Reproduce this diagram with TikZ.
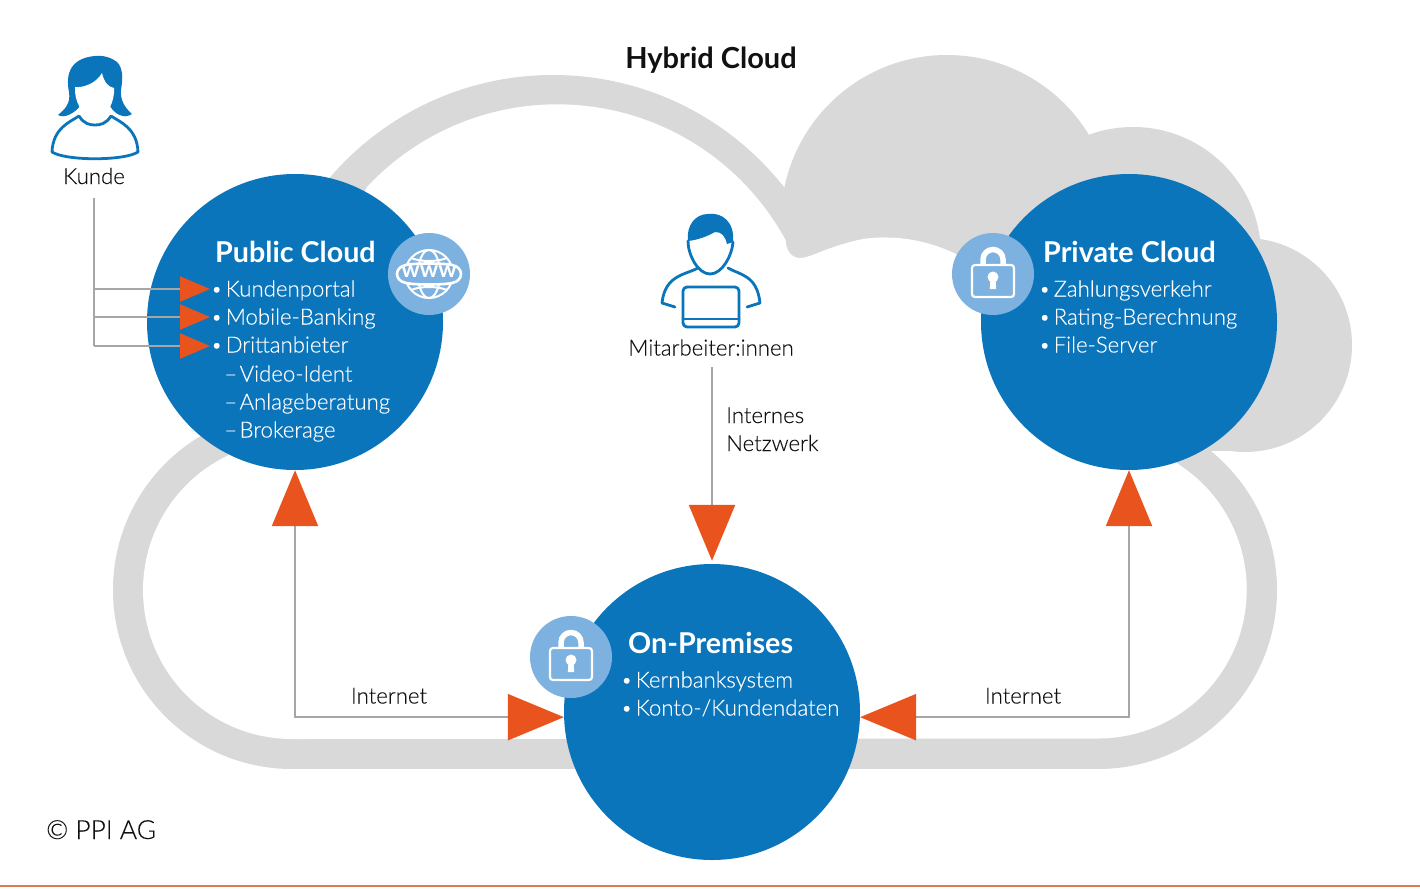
\documentclass[tikz,border=0pt]{standalone}
\usepackage{fontspec}
\setmainfont{Lato Light}[BoldFont=Lato Bold,UprightFeatures={FakeBold=0.15}]
\usetikzlibrary{arrows.meta}
\definecolor{ppiblue}{HTML}{0B75BC}
\definecolor{ppilight}{HTML}{7DB1E0}
\definecolor{ppigrey}{HTML}{D9D9D9}
\definecolor{ppiline}{HTML}{A6A6A6}
\definecolor{ppiorange}{HTML}{E9531D}
\definecolor{ppirule}{HTML}{DC7A50}
\definecolor{ppidark}{HTML}{111111}
\newcommand{\itm}{\raisebox{1pt}{\fontsize{19}{19}\selectfont •}\hspace{3.5pt}}
\newcommand{\dsh}{–\hspace{2.5pt}}
\tikzset{
  bigcircle/.style={circle,fill=ppiblue,inner sep=0pt,minimum size=296pt},
  badge/.style={circle,fill=ppilight,inner sep=0pt,minimum size=82pt},
  txt/.style={anchor=base west,inner sep=0pt,font=\fontsize{22.2}{28}\selectfont},
  itemtext/.style={txt,text=white},
  titletext/.style={anchor=base west,inner sep=0pt,text=white,font=\fontsize{28.7}{34}\selectfont\bfseries},
  labeltext/.style={txt,text=ppidark},
  conn/.style={draw=ppiline,line width=2.3pt,line join=miter},
  bigtip/.style={-{Triangle[length=56pt,width=46pt,color=ppiorange]}},
  bigtips/.style={{Triangle[length=56pt,width=46pt,color=ppiorange]}-{Triangle[length=56pt,width=46pt,color=ppiorange]}},
  smalltip/.style={-{Triangle[length=30pt,width=25pt,color=ppiorange]}},
  icon/.style={draw=ppiblue,line width=2.8pt,line join=round,line cap=round},
  lockicon/.pic={
    \draw[white,line width=5.5pt] (-10,-8) -- (-10,-14.5) arc[start angle=180,end angle=360,radius=10] -- (10,-8);
    \draw[white,line width=2.2pt,rounded corners=3pt,fill=ppilight] (-21,-9) rectangle (21,23);
    \fill[white] (0,3) circle[radius=5.5];
    \fill[white] (-2.5,4) -- (2.5,4) -- (3.2,15) -- (-3.2,15) -- cycle;
  }
}
\begin{document}
\begin{tikzpicture}[x=1pt,y=-1pt]
\useasboundingbox (0,0) rectangle (1420,888);
\fill[white] (0,0) rectangle (1420,888);
% cloud body
\foreach \cx/\cy/\rr in {553/369/294, 947/221/166, 1133/255/128, 1245/345/107, 292/590/179, 1098/590/179}
  \fill[ppigrey] (\cx,\cy) circle[radius=\rr];
\fill[ppigrey] (1150,345) rectangle (1245,451);
\fill[ppigrey] (292,400) rectangle (1098,769);
\fill[ppigrey] (800,250) rectangle (1200,400);
% cloud interior
\fill[white] (367,187) arc[start angle=223,end angle=331.5,radius=260]
  .. controls (786,250) and (791,258) .. (800,258)
  .. controls (811,258) and (828,246) .. (863,239)
  .. controls (890,235) and (925,238) .. (960,256)
  -- (1000,290) -- (1178,464)
  arc[start angle=302.6,end angle=450,radius=149]
  -- (292,739)
  arc[start angle=90,end angle=244.6,radius=149] -- cycle;
% big circles
\node[bigcircle] (public) at (295,322) {};
\node[bigcircle] (private) at (1129,322) {};
\node[bigcircle] (onprem) at (712,712) {};
% badges
\node[badge] (www) at (429,274) {};
\node[badge] (lockb) at (993,274) {};
\node[badge] (locka) at (571,657) {};
\pic at (993,274) {lockicon};
\pic at (571,657) {lockicon};
% www globe
\begin{scope}[shift={(429,274)}]
  \draw[white,line width=2pt] (0,0) circle[radius=24];
  \draw[white,line width=2pt] (0,0) ellipse[x radius=11,y radius=24];
  \draw[white,line width=2pt] (-18,-16) .. controls (-8,-12) and (8,-12) .. (18,-16);
  \draw[white,line width=2pt] (-18,16) .. controls (-8,12) and (8,12) .. (18,16);
  \draw[white,line width=2.6pt,fill=ppilight] (-23,-9) .. controls (-15,-11) and (15,-11) .. (23,-9)
     .. controls (35,-7) and (35,7) .. (23,9) .. controls (15,11) and (-15,11) .. (-23,9)
     .. controls (-35,7) and (-35,-7) .. (-23,-9) -- cycle;
\end{scope}
\node[inner sep=0pt,text=white,font=\fontsize{23}{23}\selectfont\bfseries] (wwwtext) at (429,271.5) {www};
% woman
\fill[ppiblue] (58,115) .. controls (64,110) and (71,104) .. (69,92) .. controls (65,72) and (72,58) .. (95,56)
  .. controls (104,55) and (112,58) .. (117,62) .. controls (123,68) and (123,78) .. (121,90)
  .. controls (120,100) and (125,108) .. (132,114) .. controls (125,119) and (115,115) .. (110,106)
  -- (80,106) .. controls (75,113) and (64,119) .. (58,115) -- cycle;
\fill[white] (75,87) .. controls (82,88) and (96,84) .. (102,73) .. controls (104,82) and (108,87) .. (114,88)
  .. controls (115,100) and (108,118) .. (95,118) .. controls (82,118) and (74,100) .. (75,87) -- cycle;
\draw[icon] (79,116) .. controls (70,122) and (53,128) .. (52,152) .. controls (66,161) and (124,161) .. (138,152)
  .. controls (137,128) and (120,122) .. (111,116) .. controls (106,124) and (100,125) .. (95,125)
  .. controls (90,125) and (84,124) .. (79,116) -- cycle;
% man
\fill[ppiblue] (688,241) .. controls (686,226) and (695,214) .. (708,214) .. controls (722,212) and (735,222) .. (733,242)
  -- (727,244) .. controls (725,236) and (722,232) .. (715,232) .. controls (708,236) and (698,240) .. (688,241) -- cycle;
\draw[icon] (688,241) .. controls (688,255) and (698,274) .. (710,274) .. controls (722,274) and (732,256) .. (733,242);
\draw[icon] (698,268) .. controls (685,275) and (665,275) .. (662,303) -- (675,307);
\draw[icon] (728,268) .. controls (740,275) and (757,275) .. (760,303) -- (747,307);
\draw[icon,rounded corners=4pt] (683,287) rectangle (739,327);
\draw[icon] (683,319) -- (739,319);
% texts
\node[anchor=base,inner sep=0pt,text=ppidark,font=\fontsize{29}{34}\selectfont\bfseries] (hybrid) at (711,69) {Hybrid Cloud};
\node[labeltext,anchor=base] (kunde) at (94,184) {Kunde};
\node[labeltext,anchor=base] (mit) at (711,355.5) {Mitarbeiter:innen};
\node[labeltext] (internes) at (726,423) {Internes};
\node[labeltext] (netzwerk) at (726,451) {Netzwerk};
\node[labeltext,anchor=base] (inta) at (389,703.5) {Internet};
\node[labeltext,anchor=base] (intb) at (1023,703.5) {Internet};
\node[txt,text=ppidark,font=\fontsize{26.3}{32}\selectfont] (copy) at (46,839) {© PPI AG};
\node[titletext] (t1) at (215,262) {Public Cloud};
\node[itemtext] (p1) at (211,296.5) {\itm Kundenportal};
\node[itemtext] (p2) at (211,324.5) {\itm Mobile-Banking};
\node[itemtext] (p3) at (211,352.5) {\itm Drittanbieter};
\node[itemtext] (p4) at (224,381.5) {\dsh Video-Ident};
\node[itemtext] (p5) at (224,409.5) {\dsh Anlageberatung};
\node[itemtext] (p6) at (224,437.5) {\dsh Brokerage};
\node[titletext] (t2) at (1043,262) {Private Cloud};
\node[itemtext] (q1) at (1039,296.5) {\itm Zahlungsverkehr};
\node[itemtext] (q2) at (1039,324.5) {\itm Rating-Berechnung};
\node[itemtext] (q3) at (1039,352.5) {\itm File-Server};
\node[titletext] (t3) at (628,653) {On-Premises};
\node[itemtext] (r1) at (621,687.5) {\itm Kernbanksystem};
\node[itemtext] (r2) at (621,715.5) {\itm Konto-/Kundendaten};
% connectors
\coordinate (khub) at (94,198);
\coordinate (k1) at (210,289);
\coordinate (k2) at (210,317);
\coordinate (k3) at (210,346);
\draw[conn] (khub) -- (94,346);
\draw[conn,smalltip] (94,289) -- (k1);
\draw[conn,smalltip] (94,317) -- (k2);
\draw[conn,smalltip] (94,346) -- (k3);
\draw[conn,bigtips] (public.south) |- (onprem.182);
\draw[conn,bigtips] (private.south) |- (onprem.-2);
\draw[conn,bigtip,shorten >=3pt] (712,367) -- (onprem.north);
% bottom rule
\fill[ppirule] (0,884.5) rectangle (1420,887);
\end{tikzpicture}
\end{document}
